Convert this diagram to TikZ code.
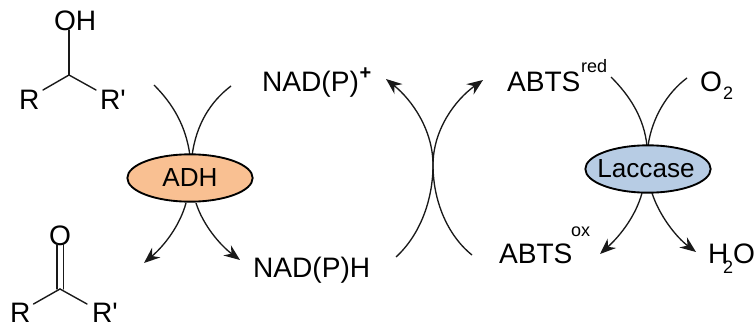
\documentclass[tikz,border=0pt]{standalone}
\usepackage{fontspec}
\setmainfont{Liberation Sans}
\usetikzlibrary{arrows.meta,shapes.geometric}
\tikzset{
  x=0.75pt,y=-0.75pt,
  lbl/.style={inner sep=0pt,outer sep=0pt,anchor=base west,font=\fontsize{21.1}{24}\selectfont,text=black},
  small/.style={inner sep=0pt,outer sep=0pt,anchor=base west,font=\fontsize{13.5}{16}\selectfont,text=black},
  atom/.style={inner sep=0pt,outer sep=0pt,anchor=base west,font=\fontsize{21.1}{24}\selectfont,text=black},
  bond/.style={line width=1.05pt,line cap=round,black!90},
  flow/.style={line width=1.0pt,black!90},
  flowarr/.style={flow,-{Stealth[length=12pt,width=9.5pt,inset=4pt]}},
  enzyme/.style={ellipse,draw=black,line width=1.4pt,minimum width=94pt,minimum height=35.5pt,inner sep=0pt,font=\fontsize{19.6}{24}\selectfont},
}
\definecolor{adhfill}{HTML}{F9C092}
\definecolor{lacfill}{HTML}{B7CCE4}
\begin{document}
\begin{tikzpicture}
\useasboundingbox (0,0) rectangle (755,324);
% free ends
\coordinate (a1) at (154,85);
\coordinate (a2) at (231,86);
\coordinate (a3) at (144,263);
\coordinate (a4) at (240,260);
\coordinate (m) at (433,165);
\coordinate (m1) at (396,257);
\coordinate (m2) at (472,255);
\coordinate (m3) at (386,79);
\coordinate (m4) at (483,80);
\coordinate (l1) at (611,77);
\coordinate (l2) at (687,78);
\coordinate (l3) at (600,254);
\coordinate (l4) at (696,252);
% curves behind enzymes
\draw[flow] (a1) .. controls (172,103) and (186,125) .. (190,156);
\draw[flow] (a2) .. controls (210,102) and (196,125) .. (192,156);
\draw[flow] (l1) .. controls (629,95) and (644,117) .. (647,146);
\draw[flow] (l2) .. controls (668,92) and (652,117) .. (648,146);
% enzymes
\node[enzyme,fill=adhfill] (adh) at (190,178) {\makebox[0pt]{ADH}};
\node[enzyme,fill=lacfill] (lac) at (648,169) {\makebox[0pt]{\hspace{-3pt}Laccase}};
% lower arrows
\draw[flowarr] (186,203) .. controls (180,225) and (165,245) .. (a3);
\draw[flowarr] (196,203) .. controls (203,225) and (220,245) .. (a4);
\draw[flowarr] (642,193) .. controls (636,215) and (621,235) .. (l3);
\draw[flowarr] (652,193) .. controls (659,215) and (676,237) .. (l4);
% central crossing
\draw[flowarr] (m1) .. controls (420,235) and (433,200) .. (m) .. controls (433,130) and (412,100) .. (m3);
\draw[flowarr] (m2) .. controls (447,235) and (433,200) .. (m) .. controls (433,130) and (455,100) .. (m4);
% alcohol
\node[atom] (oh) at (54,31) {OH};
\node[atom] (r1) at (19,109) {R};
\node[atom] (r2) at (100,109) {R\textquotesingle};
\coordinate (c1) at (69,75);
\draw[bond] (69,30) -- (c1);
\draw[bond] (c1) -- (43,90);
\draw[bond] (c1) -- (96,90);
% ketone
\node[atom] (o) at (49,245) {O};
\node[atom] (r3) at (10,322.5) {R};
\node[atom] (r4) at (92,322.5) {R\textquotesingle};
\coordinate (c2) at (60,289);
\draw[bond] (57,244) -- (57,289);
\draw[bond] (63.5,244) -- (63.5,289);
\draw[bond] (c2) -- (33.5,304);
\draw[bond] (c2) -- (87,304);
% cofactors
\node[lbl] (nadp) at (262,92) {NAD(P)};
\node[small,font=\fontsize{15}{16}\bfseries] (plus) at (359.5,80) {+};
\node[lbl] (nadh) at (253,277) {NAD(P)H};
\node[lbl] (abtsr) at (507,92) {ABTS};
\node[small] (red) at (581,73) {red};
\node[lbl] (o2) at (700,92) {O};
\node[small] (o2s) at (723,100) {2};
\node[lbl] (abtso) at (499,263) {ABTS};
\node[small] (ox) at (571,236) {ox};
\node[lbl] (h) at (708,263) {H};
\node[small] (h2) at (723,273) {2};
\node[lbl] (ho) at (733,263) {O};
\end{tikzpicture}
\end{document}
